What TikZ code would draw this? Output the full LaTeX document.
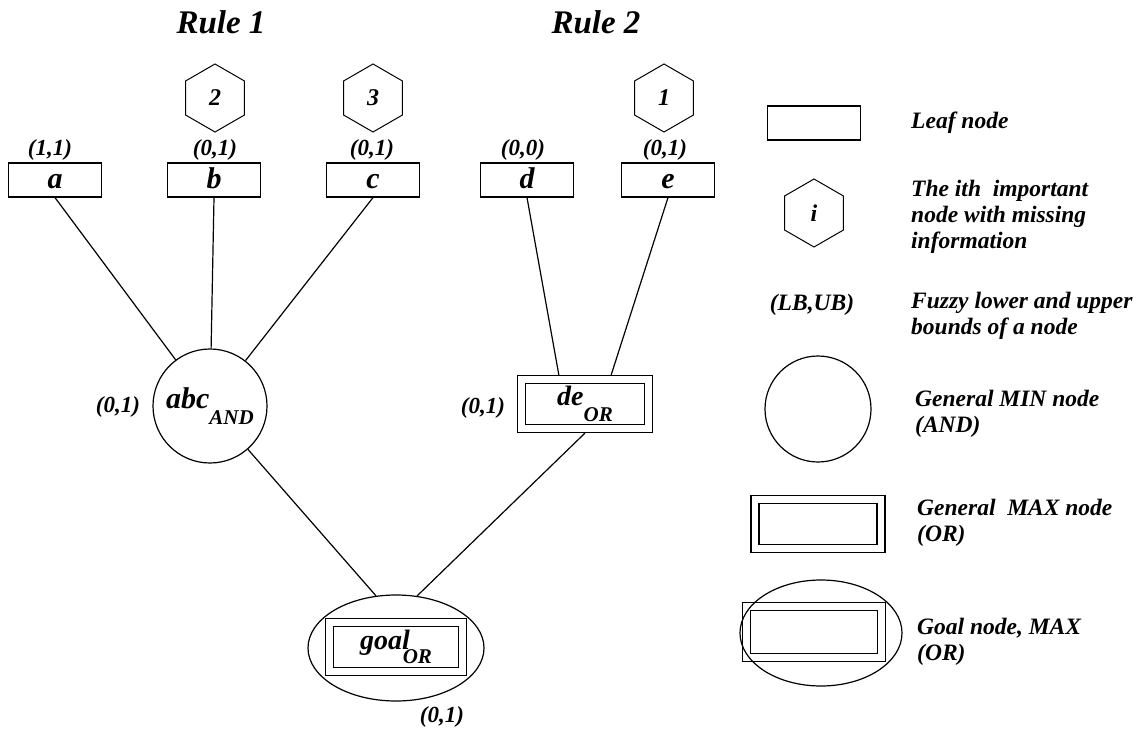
\documentclass[tikz,border=0pt]{standalone}
\usepackage{fontspec}
\setmainfont{Liberation Serif}
\usetikzlibrary{positioning, shapes.geometric}

\newcommand{\fsz}[2]{\fontsize{#1}{#2}\selectfont\bfseries\itshape}
\newcommand{\subtag}[2]{\raisebox{-#1}{\fsz{21}{21}#2}}

\begin{document}
\begin{tikzpicture}[x=1pt, y=-1pt,
  title/.style={font=\fsz{33}{36}},
  leafbox/.style={draw, line width=1.2pt, minimum width=93pt, minimum height=34pt,
    inner sep=0pt, text height=19pt, text depth=2pt, font=\fsz{30}{32}},
  hexnode/.style={draw, line width=1pt, regular polygon, regular polygon sides=6,
    shape border rotate=30, minimum size=68pt, inner sep=0pt, font=\fsz{24}{26}},
  andnode/.style={draw, line width=1.2pt, circle, minimum size=114pt, inner sep=0pt,
    font=\fsz{30}{32}},
  ornode/.style={draw, line width=1.1pt, minimum width=135pt, minimum height=57pt,
    inner sep=0pt, font=\fsz{28}{30},
    path picture={\draw[line width=1.1pt]
      ([shift={(8pt,8pt)}]path picture bounding box.south west) rectangle
      ([shift={(-8pt,-8pt)}]path picture bounding box.north east);}},
  goalring/.style={draw, line width=1.2pt, ellipse, minimum width=176pt,
    minimum height=106pt, inner sep=0pt},
  bound/.style={font=\fsz{23}{25}},
  legendtext/.style={anchor=west, align=left, inner sep=0pt, font=\fsz{23.5}{26}},
  link/.style={line width=1.2pt}]

\useasboundingbox (0,0) rectangle (1137,733);

% Rule 1
\node[title] (rule1) at (221,22) {Rule 1};
\node[hexnode] (h2) at (215,98) {2};
\node[hexnode] (h3) at (373,98) {3};
\node[leafbox] (a) at (55,180) {a};
\node[leafbox] (b) at (214,180) {b};
\node[leafbox] (c) at (373,180) {c};
\node[bound] (ab) at (50,150) {(1,1)};
\node[bound] (bb) at (215,150) {(0,1)};
\node[bound] (cb) at (372,150) {(0,1)};
\node[andnode] (abc) at (210,406) {abc\subtag{16pt}{AND}};
\node[bound] (abcb) at (118,407) {(0,1)};

% Rule 2
\node[title] (rule2) at (596,22) {Rule 2};
\node[hexnode] (h1) at (664,98) {1};
\node[leafbox] (d) at (527,180) {d};
\node[leafbox] (e) at (668,180) {e};
\node[bound] (db) at (523,150) {(0,0)};
\node[bound] (eb) at (665,150) {(0,1)};
\node[ornode] (de) at (585,404) {de\subtag{16pt}{OR}};
\node[bound] (deb) at (483,408) {(0,1)};

% goal
\node[goalring] (goalring) at (396,648) {};
\node[ornode, minimum width=141pt] (goal) at (396,647) {goal\kern-7pt\subtag{14pt}{OR}};
\node[bound] (goalb) at (442,717) {(0,1)};

\draw[link] (a.south) -- (abc);
\draw[link] (b.south) -- (abc);
\draw[link] (c.south) -- (abc);
\draw[link] (d.south) -- (de.132);
\draw[link] (e.south) -- (de.48);
\draw[link] (abc) -- (goalring.111);
\draw[link] (de.south) -- (goalring.68);

% legend
\node[leafbox] (kleaf) at (814,123) {};
\node[legendtext] (tleaf) at (911,123) {Leaf node};
\node[hexnode] (khex) at (814,213) {i};
\node[legendtext] (thex) at (911,217) {The ith\ \ important\\node with missing\\information};
\node[bound, font=\fsz{23.5}{26}] (kbound) at (812,305) {(LB,UB)};
\node[legendtext] (tbound) at (911,316) {Fuzzy lower and upper\\bounds of a node};
\node[andnode, minimum size=106pt] (kand) at (818,409) {};
\node[legendtext] (tand) at (915,414) {General MIN node\\(AND)};
\node[ornode, minimum width=134pt] (kor) at (818,524) {};
\node[legendtext] (tor) at (917,523) {General\ \ MAX node\\(OR)};
\node[goalring, minimum width=162pt, minimum height=106pt] (kring) at (821,633) {};
\node[ornode, minimum width=143pt, minimum height=59pt] (kgoal) at (814,632) {};
\node[legendtext] (tgoal) at (917,642) {Goal node, MAX\\(OR)};
\end{tikzpicture}
\end{document}
